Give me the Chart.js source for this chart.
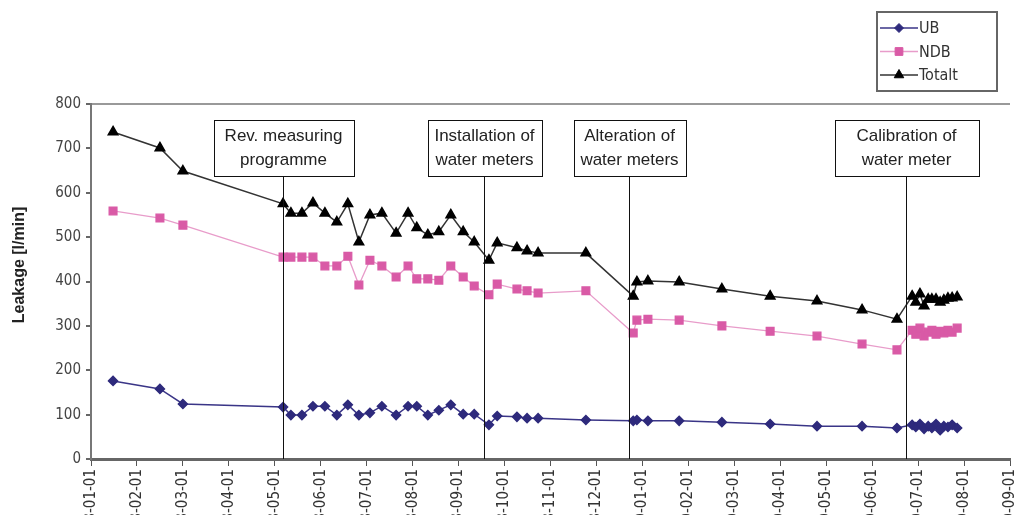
<!DOCTYPE html>
<html>
<head>
<meta charset="utf-8">
<title>Leakage</title>
<script src="https://cdn.jsdelivr.net/npm/chart.js@4/dist/chart.umd.min.js"></script>
<style>
  html, body { margin: 0; padding: 0; background: #fff; }
  #wrap { width: 1014px; height: 515px; }
</style>
</head>
<body>
<div id="wrap"><canvas id="leakChart" width="1014" height="515"></canvas></div>
<script>
// month index (0 = first tick) for each reading
const months = [0.48, 1.50, 2.00, 4.18, 4.35, 4.59, 4.83, 5.09, 5.35, 5.59, 5.83, 6.07,
  6.33, 6.64, 6.90, 7.09, 7.33, 7.57, 7.83, 8.10, 8.34, 8.66, 8.84, 9.27, 9.49, 9.73,
  10.77, 11.80, 11.88, 12.12, 12.80, 13.73, 14.78, 15.80, 16.78, 17.54,
  17.87, 17.95, 18.04, 18.13, 18.22, 18.30, 18.39, 18.48, 18.56, 18.65, 18.74, 18.85];

const ub = [176, 158, 124, 117, 99, 99, 119, 119, 99, 122, 99, 104,
  119, 99, 119, 119, 99, 110, 122, 101, 101, 77, 97, 95, 92, 92,
  88, 86, 88, 86, 86, 83, 79, 74, 74, 70,
  77, 72, 79, 68, 74, 70, 79, 65, 74, 72, 77, 70];

const ndb = [559, 543, 527, 455, 455, 455, 455, 435, 435, 457, 392, 448,
  435, 410, 435, 406, 406, 403, 435, 410, 390, 370, 394, 383, 379, 374,
  379, 284, 313, 315, 313, 300, 288, 277, 259, 246,
  290, 281, 295, 277, 286, 290, 281, 288, 284, 290, 286, 295];

const totalt = [737, 701, 649, 575, 554, 554, 577, 554, 534, 575, 489, 550,
  554, 509, 554, 521, 505, 512, 550, 512, 489, 448, 487, 476, 469, 464,
  464, 367, 399, 401, 399, 383, 367, 356, 336, 315,
  367, 353, 372, 345, 360, 360, 360, 353, 358, 362, 363, 365];

const monthLabels = ['98-01-01', '98-02-01', '98-03-01', '98-04-01', '98-05-01', '98-06-01',
  '98-07-01', '98-08-01', '98-09-01', '98-10-01', '98-11-01', '98-12-01', '99-01-01',
  '99-02-01', '99-03-01', '99-04-01', '99-05-01', '99-06-01', '99-07-01', '99-08-01', '99-09-01'];

const eventMonths = [4.18, 8.55, 11.71, 17.74];
const eventLabels = [
  ['Rev. measuring', 'programme'],
  ['Installation of', 'water meters'],
  ['Alteration of', 'water meters'],
  ['Calibration of', 'water meter']
];

const yTitle = 'Leakage [l/min]';

const toPoints = vals => vals.map((v, i) => ({ x: months[i], y: v }));

const labelFont = '"Liberation Sans", Arial, sans-serif';
const narrowFont = '"Liberation Sans Narrow", "DejaVu Sans Condensed", sans-serif';

// vertical event lines with captioned boxes
const eventMarkers = {
  id: 'eventMarkers',
  afterDatasetsDraw(chart, args, opts) {
    const { ctx, scales: { x, y } } = chart;
    ctx.save();
    ctx.font = '17px ' + labelFont;
    ctx.textAlign = 'center';
    ctx.textBaseline = 'middle';
    eventMonths.forEach((m, i) => {
      const px = Math.round(x.getPixelForValue(m)) + 0.5;
      const w = opts.boxWidths[i];
      const top = opts.boxTop, h = opts.boxHeight;
      ctx.strokeStyle = '#111';
      ctx.lineWidth = 1;
      ctx.beginPath();
      ctx.moveTo(px, top + h);
      ctx.lineTo(px, y.bottom);
      ctx.stroke();
      ctx.fillStyle = '#fff';
      ctx.fillRect(Math.round(px - w / 2) + 0.5, top + 0.5, w, h);
      ctx.strokeRect(Math.round(px - w / 2) + 0.5, top + 0.5, w, h);
      ctx.fillStyle = '#222';
      eventLabels[i].forEach((line, j) => {
        ctx.fillText(line, px, top + 16 + j * 24);
      });
    });
    ctx.restore();
  }
};

// boxed legend in the upper right corner, plus the rotated axis caption
const boxLegend = {
  id: 'boxLegend',
  afterDraw(chart) {
    const { ctx } = chart;
    ctx.save();
    ctx.strokeStyle = '#666';
    ctx.lineWidth = 2;
    ctx.strokeRect(877, 12, 120, 79);
    ctx.font = '16px ' + narrowFont;
    ctx.textBaseline = 'middle';
    chart.data.datasets.forEach((ds, i) => {
      const ly = 28 + i * 23.5;
      ctx.strokeStyle = ds.borderColor;
      ctx.lineWidth = 1.5;
      ctx.beginPath();
      ctx.moveTo(880, ly);
      ctx.lineTo(918, ly);
      ctx.stroke();
      ctx.fillStyle = ds.pointBackgroundColor;
      ctx.strokeStyle = ds.pointBorderColor;
      ctx.lineWidth = 1;
      Chart.helpers.drawPoint(ctx, { pointStyle: ds.pointStyle, radius: ds.pointRadius, borderWidth: 1 }, 899, ly);
      ctx.fillStyle = '#333';
      ctx.fillText(ds.label, 919, ly + 1);
    });

    ctx.translate(20, 265);
    ctx.rotate(-Math.PI / 2);
    ctx.font = 'bold 16px ' + labelFont;
    ctx.fillStyle = '#222';
    ctx.textAlign = 'center';
    ctx.fillText(yTitle, 0, 0);
    ctx.restore();
  }
};

new Chart(document.getElementById('leakChart'), {
  type: 'line',
  data: {
    datasets: [{
      label: 'UB',
      data: toPoints(ub),
      borderColor: '#3a3587',
      borderWidth: 1.5,
      pointStyle: 'rectRot',
      pointRadius: 4.5,
      pointBackgroundColor: '#2e2a7c',
      pointBorderColor: '#2e2a7c'
    }, {
      label: 'NDB',
      data: toPoints(ndb),
      borderColor: '#e89cca',
      borderWidth: 1.3,
      pointStyle: 'rect',
      pointRadius: 5.5,
      pointBackgroundColor: '#d95aa6',
      pointBorderColor: '#d95aa6'
    }, {
      label: 'Totalt',
      data: toPoints(totalt),
      borderColor: '#333',
      borderWidth: 1.5,
      pointStyle: 'triangle',
      pointRadius: 5.5,
      pointBackgroundColor: '#000',
      pointBorderColor: '#000'
    }]
  },
  options: {
    responsive: false,
    animation: false,
    layout: { autoPadding: false, padding: { top: 104, right: 4, left: 0, bottom: 0 } },
    plugins: {
      legend: { display: false },
      tooltip: { enabled: false },
      eventMarkers: { boxTop: 120, boxHeight: 56, boxWidths: [140, 114, 112, 144] }
    },
    scales: {
      x: {
        type: 'linear',
        min: 0,
        max: 20,
        border: { color: '#666', width: 3 },
        grid: { drawOnChartArea: false, color: '#555', tickLength: 7 },
        ticks: {
          stepSize: 1,
          autoSkip: false,
          minRotation: 90,
          maxRotation: 90,
          color: '#333',
          font: { family: narrowFont, size: 15 },
          callback: v => monthLabels[v]
        },
        afterFit: s => { s.height = 56; s.paddingLeft = 0; s.paddingRight = 0; }
      },
      y: {
        min: 0,
        max: 800,
        border: { color: '#777', width: 2 },
        grid: {
          color: c => c.tick && c.tick.value === 800 ? '#999' : 'rgba(0,0,0,0)',
          tickColor: '#666',
          tickLength: 5,
          lineWidth: 2
        },
        ticks: {
          stepSize: 100,
          padding: 5,
          color: '#444',
          font: { family: narrowFont, size: 15 }
        },
        afterFit: s => { s.width = 91; s.paddingTop = 0; s.paddingBottom = 0; }
      }
    }
  },
  plugins: [eventMarkers, boxLegend]
});
</script>
</body>
</html>
